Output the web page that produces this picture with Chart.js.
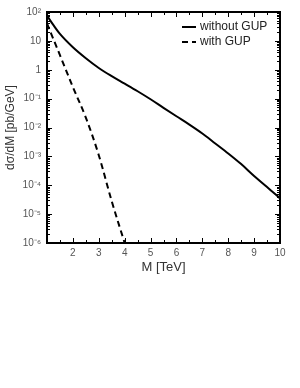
<!DOCTYPE html>
<html lang="en">
<head>
    <meta charset="UTF-8">
    <title>d sigma / dM vs M</title>
    <style>
        body { margin: 0; padding: 0; background: #fff; }
        #wrap { width: 300px; height: 388px; }
    </style>
</head>
<body>
    <div id="wrap"><canvas id="chart" width="300" height="388"></canvas></div>

    <script src="https://cdn.jsdelivr.net/npm/chart.js"></script>
    <script>
        // M [TeV] sample points
        const massNoGup = [1, 1.25, 1.5, 2, 2.5, 3, 3.5, 4, 4.5, 5, 5.5, 6, 6.5, 7, 7.5, 8, 8.5, 9, 9.5, 10];
        const sigmaNoGup = [75, 35, 17.4, 6.0, 2.5, 1.15, 0.6, 0.33, 0.18, 0.095, 0.048, 0.0245, 0.0126,
                            0.0062, 0.0028, 0.00126, 5.4e-4, 2.1e-4, 8.7e-5, 3.5e-5];

        const massGup = [1, 1.5, 2, 2.5, 3, 3.5, 4];
        const sigmaGup = [40, 3.2, 0.25, 0.022, 1.1e-3, 2.8e-5, 1e-6];

        const xTicks = [2, 3, 4, 5, 6, 7, 8, 9, 10];
        const yTicks = [1e-6, 1e-5, 1e-4, 1e-3, 1e-2, 1e-1, 1, 10, 100];
        const yTickLabels = ['10⁻⁶', '10⁻⁵', '10⁻⁴', '10⁻³', '10⁻²', '10⁻¹', '1', '10', '10²'];

        const toPoints = (xs, ys) => xs.map((x, i) => ({ x: x, y: ys[i] }));

        // inside ticks on all four sides + frame
        const frameTicks = {
            id: 'frameTicks',
            afterDraw(chart) {
                const ctx = chart.ctx;
                const a = chart.chartArea;
                const xs = chart.scales.x, ys = chart.scales.y;
                ctx.save();
                ctx.strokeStyle = '#000';
                ctx.lineWidth = 1;
                ctx.beginPath();
                for (let v = 1; v <= 10.001; v += 0.5) {
                    const px = Math.round(xs.getPixelForValue(v)) + 0.5;
                    const len = Number.isInteger(v) ? 5 : 3;
                    ctx.moveTo(px, a.bottom); ctx.lineTo(px, a.bottom - len);
                    ctx.moveTo(px, a.top); ctx.lineTo(px, a.top + len);
                }
                for (let e = -6; e < 2; e++) {
                    for (let m = 1; m <= 10; m++) {
                        const py = Math.round(ys.getPixelForValue(m * Math.pow(10, e))) + 0.5;
                        const len = (m === 1 || m === 10) ? 5 : 3;
                        ctx.moveTo(a.left, py); ctx.lineTo(a.left + len, py);
                        ctx.moveTo(a.right, py); ctx.lineTo(a.right - len, py);
                    }
                }
                ctx.stroke();
                ctx.lineWidth = 2;
                ctx.strokeRect(a.left, a.top, a.right - a.left, a.bottom - a.top);
                ctx.restore();
            }
        };

        // legend in the top right corner of the plot
        const cornerLegend = {
            id: 'cornerLegend',
            afterDraw(chart) {
                const ctx = chart.ctx;
                const a = chart.chartArea;
                ctx.save();
                ctx.font = '12px "Liberation Sans", Arial, sans-serif';
                ctx.fillStyle = '#222';
                ctx.textBaseline = 'middle';
                chart.data.datasets.forEach((ds, i) => {
                    const y = a.top + 15 + i * 15;
                    const x0 = a.right - 98;
                    ctx.strokeStyle = ds.borderColor;
                    ctx.lineWidth = ds.borderWidth;
                    ctx.setLineDash(ds.borderDash || []);
                    ctx.beginPath();
                    ctx.moveTo(x0, y); ctx.lineTo(x0 + 14, y);
                    ctx.stroke();
                    ctx.fillText(ds.label, x0 + 18, y);
                });
                ctx.restore();
            }
        };

        const tickFont = { family: '"Liberation Sans", Arial, sans-serif', size: 10 };

        new Chart(document.getElementById('chart').getContext('2d'), {
            type: 'line',
            data: {
                datasets: [{
                    label: 'without GUP',
                    data: toPoints(massNoGup, sigmaNoGup),
                    borderColor: '#000',
                    borderWidth: 2,
                    pointRadius: 0,
                    cubicInterpolationMode: 'monotone',
                    fill: false
                }, {
                    label: 'with GUP',
                    data: toPoints(massGup, sigmaGup),
                    borderColor: '#000',
                    borderWidth: 2,
                    borderDash: [6, 4],
                    pointRadius: 0,
                    cubicInterpolationMode: 'monotone',
                    fill: false
                }]
            },
            options: {
                responsive: false,
                animation: false,
                layout: { padding: { left: 3, top: 10, right: 20, bottom: 113 } },
                plugins: {
                    legend: { display: false },
                    tooltip: { enabled: false }
                },
                scales: {
                    x: {
                        type: 'linear',
                        min: 1,
                        max: 10,
                        grid: { display: false, drawTicks: false },
                        border: { display: false },
                        afterBuildTicks: (s) => { s.ticks = xTicks.map(v => ({ value: v })); },
                        afterFit: (s) => { s.height = 32; },
                        ticks: { color: '#555', font: tickFont, padding: 4, maxRotation: 0 },
                        title: {
                            display: true,
                            text: 'M [TeV]',
                            color: '#333',
                            font: { family: '"Liberation Sans", Arial, sans-serif', size: 13 },
                            padding: { top: 0, bottom: 0 }
                        }
                    },
                    y: {
                        type: 'logarithmic',
                        min: 1e-6,
                        max: 100,
                        grid: { display: false, drawTicks: false },
                        border: { display: false },
                        afterBuildTicks: (s) => { s.ticks = yTicks.map(v => ({ value: v })); },
                        afterFit: (s) => { s.width = 44; },
                        ticks: {
                            color: '#555',
                            font: tickFont,
                            padding: 6,
                            callback: (v) => {
                                const i = yTicks.findIndex(t => Math.abs(Math.log10(t) - Math.log10(v)) < 1e-6);
                                return i >= 0 ? yTickLabels[i] : '';
                            }
                        },
                        title: {
                            display: true,
                            text: 'dσ/dM [pb/GeV]',
                            color: '#333',
                            font: { family: '"Liberation Sans", Arial, sans-serif', size: 12 },
                            padding: { top: 0, bottom: 0 }
                        }
                    }
                }
            },
            plugins: [frameTicks, cornerLegend]
        });
    </script>
</body>
</html>
